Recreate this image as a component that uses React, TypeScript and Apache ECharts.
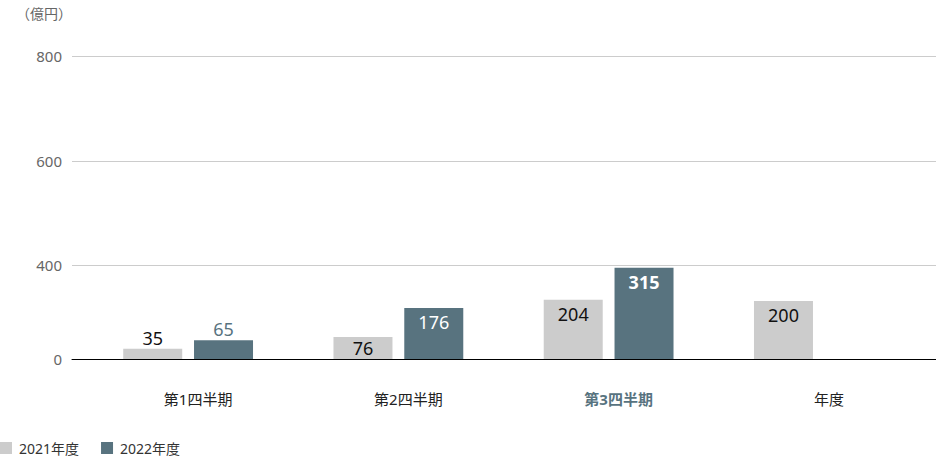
import React, { useRef, useEffect } from 'react';
import * as echarts from 'echarts';

const categories = ['第1四半期', '第2四半期', '第3四半期', '年度'];
const fy2021 = [35, 76, 204, 200];
const fy2022: (number | null)[] = [65, 176, 315, null];
const seriesNames = ['2021年度', '2022年度'];
const yTickLabels = ['0', '400', '600', '800'];
// where the printed tick labels sit on the bar scale (the source axis is not linear)
const yTickPos = [0, 325, 683, 1045];
const yMax = 1045;
const highlightIndex = 2;

const GRAY = '#cccccc';
const SLATE = '#58737f';
const FONT = "'Noto Sans', 'Noto Sans CJK JP', sans-serif";

const labelFor = (v: number | null, i: number, dark: boolean) => {
    if (v == null) return { show: false };
    const pos = v < 70 ? 'top' : v < 100 ? 'inside' : 'insideTop';
    const outside = pos === 'top';
    return {
        show: true,
        position: pos,
        distance: outside ? 2 : 5,
        fontSize: 18,
        fontFamily: FONT,
        fontWeight: dark && i === highlightIndex ? 'bold' : 'normal',
        color: dark ? (outside ? SLATE : '#ffffff') : '#111111',
    };
};

const App: React.FC = () => {
    const chartRef = useRef<HTMLDivElement>(null);

    useEffect(() => {
        document.body.style.margin = '0';
        if (!chartRef.current) return;
        const chart = echarts.init(chartRef.current, null, { renderer: 'svg' });

        const option: echarts.EChartsOption = {
            animation: false,
            textStyle: { fontFamily: FONT },
            title: {
                text: '（億円）',
                left: 11,
                top: 1,
                textStyle: { fontSize: 14, fontWeight: 'normal', color: '#666666', fontFamily: FONT },
            },
            legend: {
                data: seriesNames,
                left: 0,
                top: 441,
                padding: 0,
                icon: 'rect',
                itemWidth: 12,
                itemHeight: 12,
                itemGap: 22,
                textStyle: { fontSize: 14, color: '#333333', fontFamily: FONT, padding: [0, 0, 0, 2] },
            },
            grid: [
                { left: 72, right: 0, top: 56, bottom: 97 },
                { left: 83, right: 12, top: 56, bottom: 97 },
            ],
            xAxis: [
                {
                    gridIndex: 0,
                    type: 'value',
                    min: 0,
                    max: 1,
                    axisLine: { show: true, onZero: false, lineStyle: { color: '#000000', width: 1 } },
                    axisTick: { show: false },
                    axisLabel: { show: false },
                    splitLine: { show: false },
                },
                {
                    gridIndex: 1,
                    type: 'category',
                    data: categories,
                    axisLine: { show: false },
                    axisTick: { show: false },
                    axisLabel: {
                        fontSize: 15,
                        color: '#222222',
                        fontFamily: FONT,
                        margin: 32,
                        padding: [0, 0, 0, 20],
                        formatter: (v: string, i: number) => (i === highlightIndex ? `{hl|${v}}` : v),
                        rich: {
                            hl: { fontSize: 15, fontWeight: 'bold', color: SLATE, fontFamily: FONT },
                        },
                    },
                },
            ],
            yAxis: [
                {
                    gridIndex: 0,
                    type: 'value',
                    min: 0,
                    max: yMax,
                    axisLine: { show: false },
                    axisTick: { show: false, customValues: yTickPos },
                    axisLabel: {
                        customValues: yTickPos,
                        fontSize: 15,
                        color: '#666666',
                        fontFamily: FONT,
                        margin: 10,
                        formatter: (v: number) => {
                            const k = yTickPos.indexOf(v);
                            return k >= 0 ? yTickLabels[k] : '';
                        },
                    },
                    splitLine: { show: true, lineStyle: { color: '#cccccc', width: 1 } },
                },
                {
                    gridIndex: 1,
                    type: 'value',
                    min: 0,
                    max: yMax,
                    show: false,
                    splitLine: { show: false },
                },
            ],
            series: [
                {
                    name: seriesNames[0],
                    type: 'bar',
                    xAxisIndex: 1,
                    yAxisIndex: 1,
                    barWidth: 59,
                    barGap: '20%',
                    itemStyle: { color: GRAY },
                    data: fy2021.map((v, i) => ({ value: v, label: labelFor(v, i, false) })),
                },
                {
                    name: seriesNames[1],
                    type: 'bar',
                    xAxisIndex: 1,
                    yAxisIndex: 1,
                    barWidth: 59,
                    barGap: '20%',
                    itemStyle: { color: SLATE },
                    data: fy2022.map((v, i) => ({ value: v, label: labelFor(v, i, true) })),
                },
            ],
        };

        chart.setOption(option);

        return () => {
            chart.dispose();
        };
    }, []);

    return <div ref={chartRef} style={{ width: 936, height: 456 }} />;
};

export default App;
